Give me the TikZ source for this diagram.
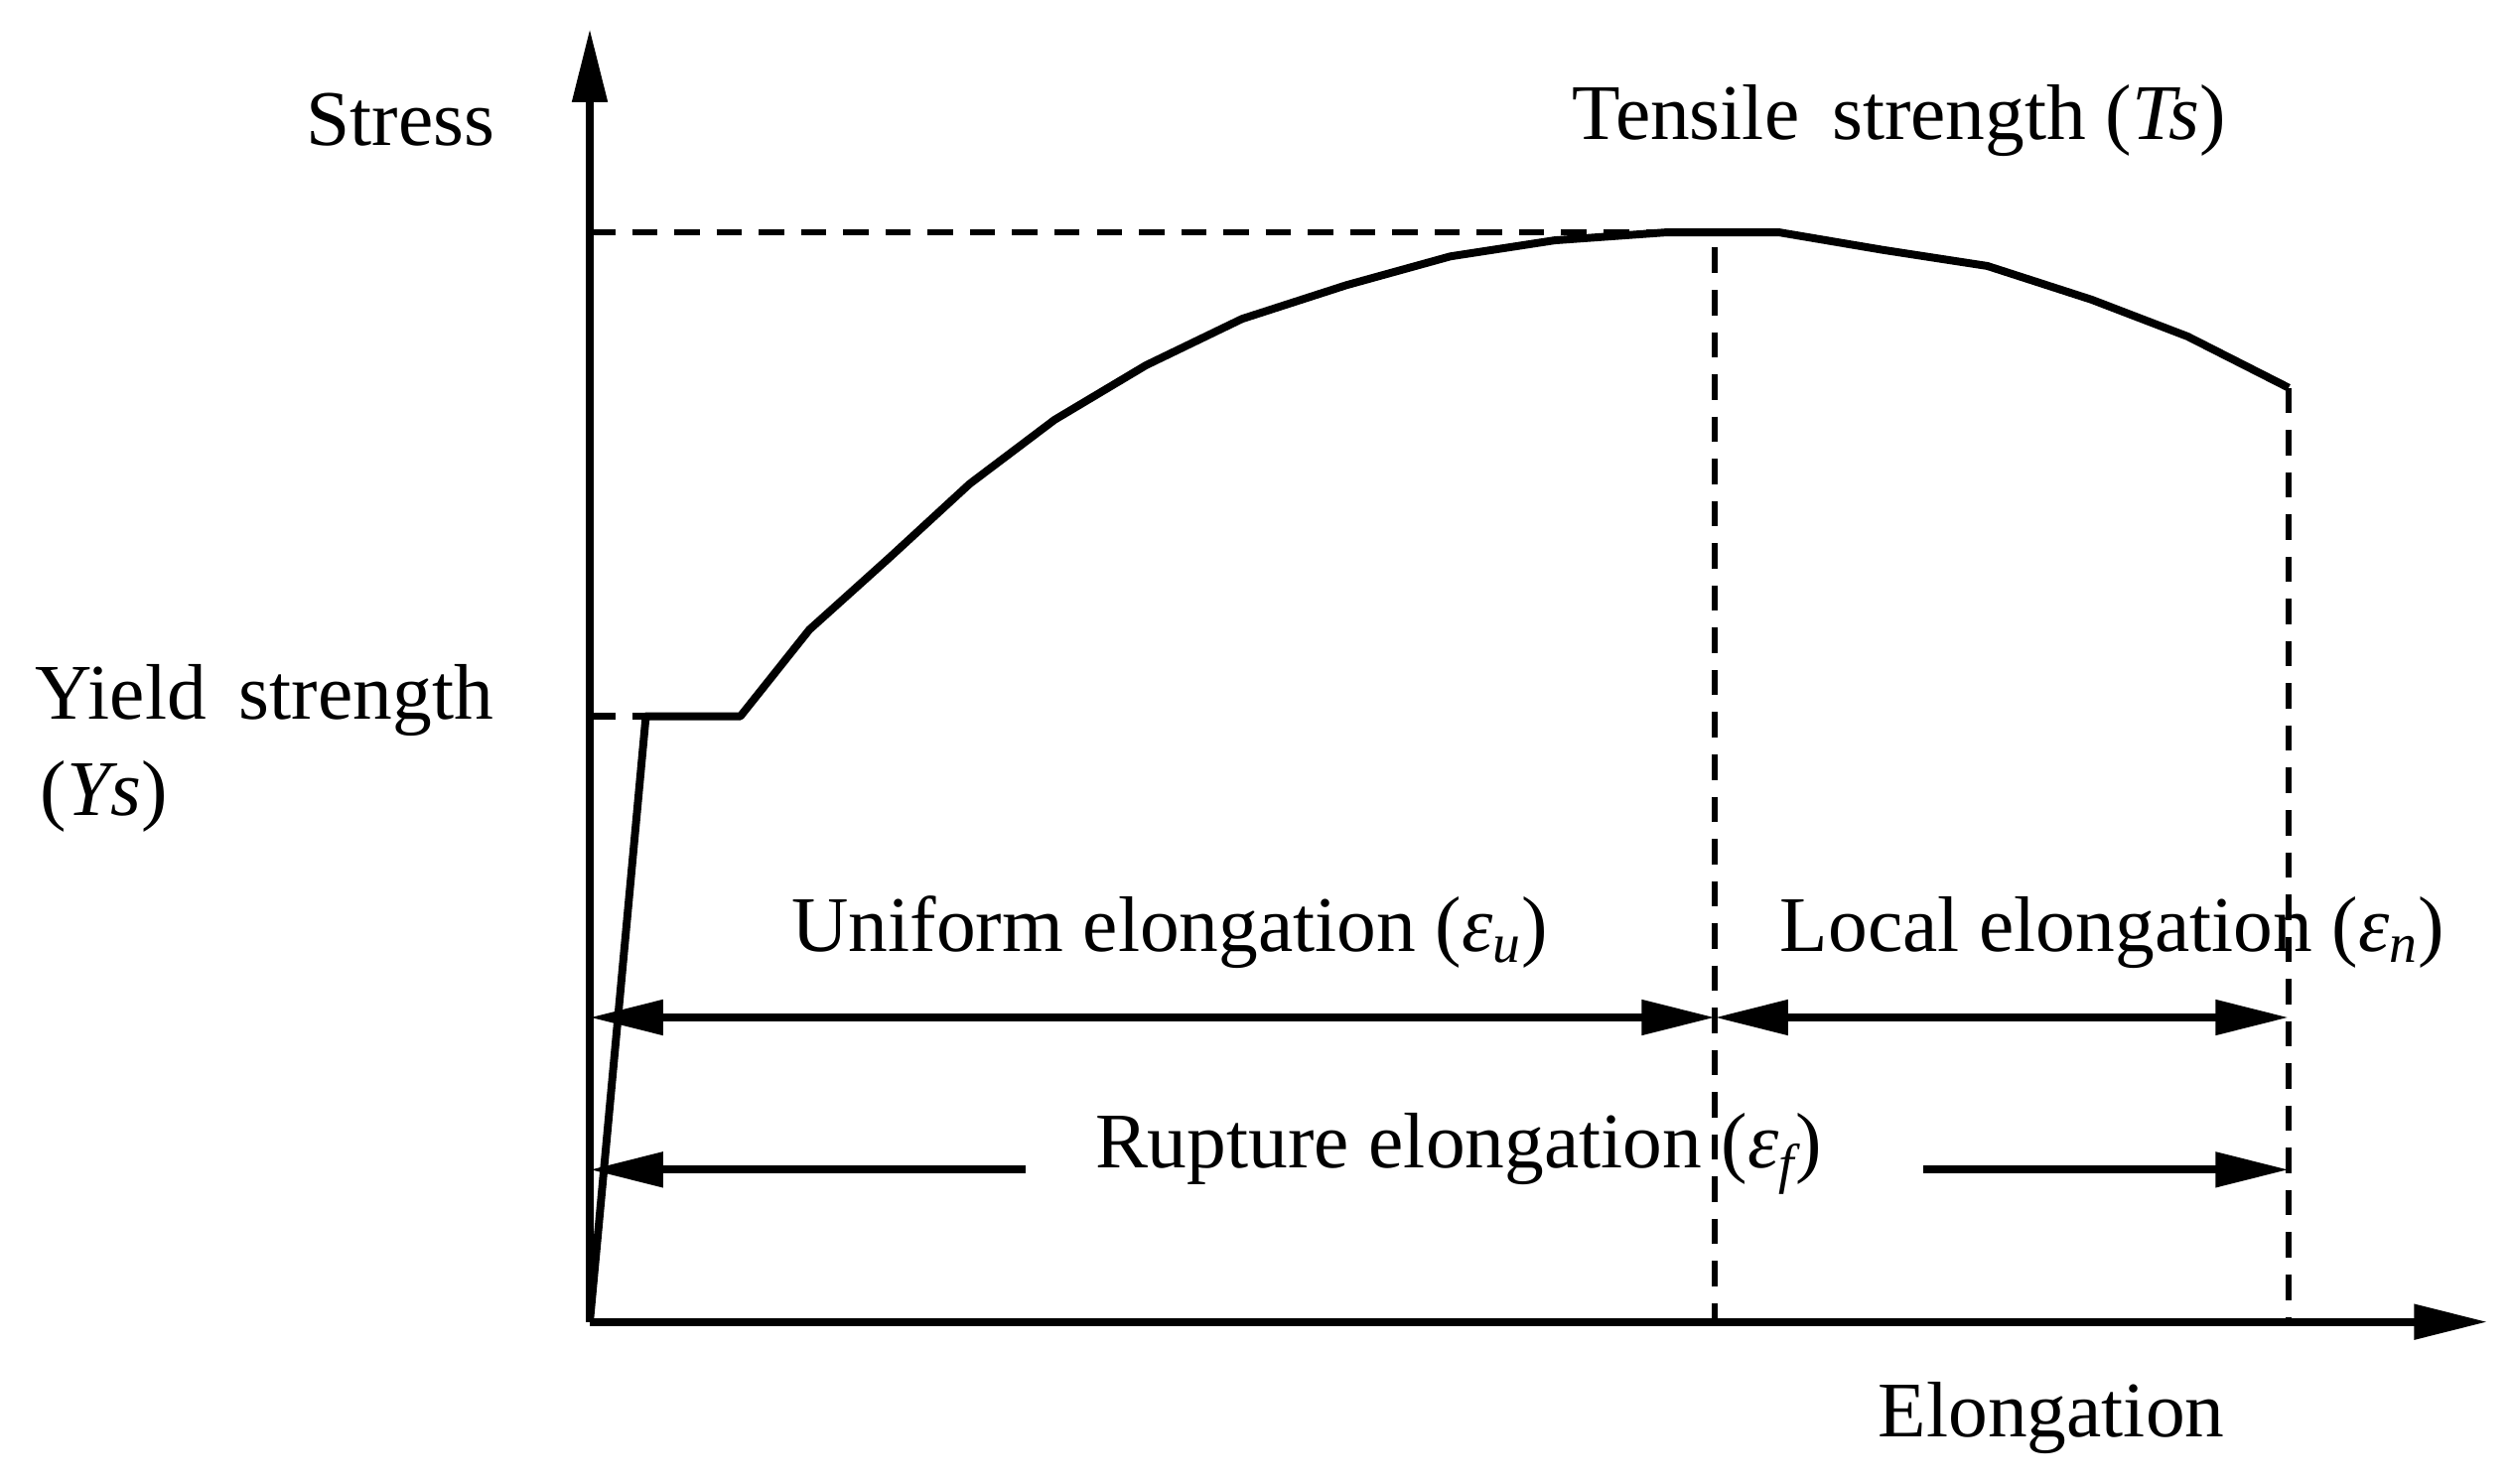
\documentclass[tikz,border=0pt]{standalone}
\usepackage{fontspec}
\setmainfont{Liberation Serif}
\usetikzlibrary{arrows.meta}
\begin{document}
\begin{tikzpicture}[x=0.02cm,y=-0.02cm,
  lbl/.style={font=\fontsize{28}{32}\selectfont,inner sep=0pt},
  thick line/.style={line width=2.8pt},
  dash line/.style={line width=2.2pt,dash pattern=on 9pt off 6pt},
  tip/.style={-{Triangle[length=26pt,width=12pt]}}]
\useasboundingbox (0,0) rectangle (1568,926);
\coordinate (O) at (368,825);
\coordinate (ytop) at (368,18);
\coordinate (xend) at (1552,825);
\draw[thick line,tip] (O) -- (ytop);
\draw[thick line,tip] (O) -- (xend);
\node[lbl] (stress) at (250,75) {Stress};
\node[lbl] (ts) at (1185,75) {Tensile\, strength (\textit{Ts})};
\node[lbl,align=left] (ys) at (165,437) {Yield\, strength};
\node[lbl] (ys2) at (65,497) {(\textit{Ys})};
\node[lbl] (el) at (1280,885) {Elongation};
\coordinate (tsl) at (368,145); \coordinate (tsp) at (1070,145);
\coordinate (tsb) at (1070,825);
\coordinate (lt) at (1428,242); \coordinate (lb) at (1428,825);
\coordinate (yl) at (368,447); \coordinate (yp) at (403,447);
\draw[dash line] (tsl) -- (tsp) -- (tsb);
\draw[dash line] (lt) -- (lb);
\draw[dash line] (yl) -- (yp);
\draw[thick line,line join=round] (O) -- (yp) -- (462,447) -- (505,393) -- (555,348) -- (605,302) -- (658,262) -- (715,228) -- (775,199) -- (840,178) -- (905,160) -- (970,150) -- (1040,145) -- (1110,145) -- (1175,156) -- (1240,166) -- (1305,187) -- (1365,210) -- (lt);
\coordinate (u1) at (368,635); \coordinate (u2) at (1070,635); \coordinate (u3) at (1428,635);
\draw[thick line,{Triangle[length=26pt,width=12pt]}-{Triangle[length=26pt,width=12pt]}] (u1) -- (u2);
\draw[thick line,{Triangle[length=26pt,width=12pt]}-{Triangle[length=26pt,width=12pt]}] (u2) -- (u3);
\node[lbl] (ue) at (730,582) {Uniform elongation (\textit{ε\textsubscript{u}})};
\node[lbl] (le) at (1318,582) {Local elongation (\textit{ε\textsubscript{n}})};
\coordinate (r1) at (368,730); \coordinate (r2) at (640,730);
\coordinate (r3) at (1200,730); \coordinate (r4) at (1428,730);
\draw[thick line,tip] (r2) -- (r1);
\draw[thick line,tip] (r3) -- (r4);
\node[lbl] (re) at (910,720) {Rupture elongation (\textit{ε\textsubscript{f}})};
\end{tikzpicture}
\end{document}
